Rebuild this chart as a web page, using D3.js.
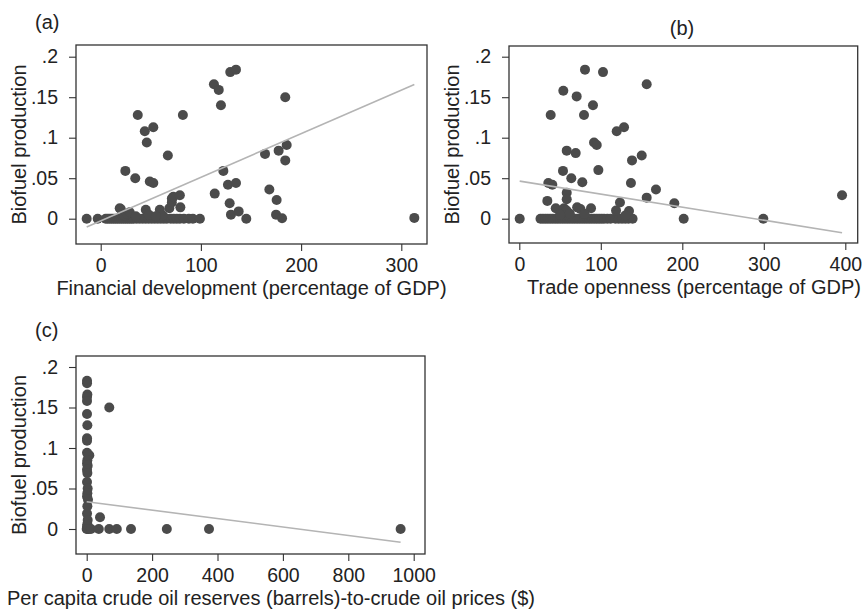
<!DOCTYPE html>
<html>
<head>
<meta charset="utf-8">
<script src="https://cdn.jsdelivr.net/npm/d3@7"></script>
<style>
  html, body { margin: 0; padding: 0; background: #fff; }
  svg text { font-family: "Liberation Sans", Arial, Helvetica, sans-serif; fill: #222; }
</style>
</head>
<body>
<svg id="chart" width="865" height="610"></svg>
<script>
// Biofuel production against three country-level determinants.

// (a) Financial development (percentage of GDP)
const finDevX = [
  -14, -3, 5, 7, 9, 11, 13, 15, 17, 19, 21, 23, 25, 27, 29, 31, 33, 36, 39, 42, 45, 48,
  51, 54, 57, 60, 63, 66, 70, 73, 76, 79, 83, 88, 92, 99,
  19, 20, 24, 26, 29, 45, 48, 59, 62, 68.5, 71, 71, 72.5, 79, 79.5, 35, 55,
  24.6, 34.5, 37, 44, 52.5, 46, 49, 52.5, 67, 82, 113, 117.8, 120, 129.3, 135, 122.4,
  113.8, 127, 135, 128.7, 130, 137.7, 145.3, 184.2, 164, 177.6, 185.6, 184.2, 168.3,
  175.6, 175, 181, 313
];
const finDevBio = [
  0, 0, 0, 0, 0, 0, 0, 0, 0, 0, 0, 0, 0, 0, 0, 0, 0, 0, 0, 0, 0, 0,
  0, 0, 0, 0, 0, 0, 0, 0, 0, 0, 0, 0, 0, 0,
  0.013, 0.012, 0.004, 0.006, 0.008, 0.011, 0.005, 0.011, 0.004, 0.013, 0.020, 0.025, 0.027, 0.029, 0.014, 0.003, 0.003,
  0.059, 0.050, 0.128, 0.108, 0.113, 0.094, 0.046, 0.044, 0.078, 0.128, 0.166, 0.159, 0.140, 0.181, 0.184, 0.059,
  0.031, 0.042, 0.044, 0.019, 0.005, 0.009, 0, 0.150, 0.080, 0.084, 0.091, 0.072, 0.036,
  0.023, 0.005, 0.0005, 0.001
];
// fitted line: intercept, slope
const finDevFit = [-0.0027, 0.000538];

// (b) Trade openness (percentage of GDP)
const tradeX = [
  0.5, 26, 29, 32, 35, 38, 41, 44, 47, 50, 53, 56, 59, 62, 65, 68, 71, 74, 77, 80, 83, 86,
  89, 92, 95, 98, 101, 104, 108, 112, 118, 122, 126, 130, 134, 139, 201.7, 299.4,
  44.7, 54.8, 58, 71, 75, 88, 118.7, 134.6, 62, 50, 80, 130,
  80.6, 102.7, 156.3, 54, 70.4, 90.4, 38.5, 79.4, 119.5, 128.5, 91.7, 95, 58.2, 69.2,
  150.2, 138.3, 53.6, 97, 63.8, 77.3, 35.6, 40.5, 137, 58.2, 58.2, 167.7, 34.4, 156.3,
  123.5, 190.2, 396
];
const tradeBio = [
  0, 0, 0, 0, 0, 0, 0, 0, 0, 0, 0, 0, 0, 0, 0, 0, 0, 0, 0, 0, 0, 0,
  0, 0, 0, 0, 0, 0, 0, 0, 0, 0, 0, 0, 0, 0, 0, 0,
  0.013, 0.013, 0.010, 0.014, 0.012, 0.013, 0.010, 0.0095, 0.006, 0.005, 0.006, 0.004,
  0.184, 0.181, 0.166, 0.158, 0.151, 0.140, 0.128, 0.128, 0.108, 0.113, 0.094, 0.091, 0.084, 0.081,
  0.078, 0.072, 0.059, 0.060, 0.050, 0.045, 0.044, 0.042, 0.044, 0.032, 0.024, 0.036, 0.022, 0.026,
  0.020, 0.019, 0.029
];
const tradeFit = [0.0465, -0.000161];

// (c) Per capita crude oil reserves (barrels)-to-crude oil prices ($)
const oilX = [
  1, 1, 2, 1, 1, 1, 2, 1, 1, 1, 8, 2, 1, 3, 1, 2, 1, 3, 2, 1, 4, 2, 1, 3, 2, 1,
  69, 40.7,
  0, 3, 6, 13, 37, 69, 92, 135.5, 245, 374, 960
];
const oilBio = [
  0.183, 0.180, 0.166, 0.163, 0.158, 0.142, 0.128, 0.112, 0.109, 0.094, 0.091, 0.085, 0.081,
  0.078, 0.073, 0.069, 0.058, 0.050, 0.044, 0.040, 0.036, 0.028, 0.019, 0.011, 0.006, 0.003,
  0.150, 0.0144,
  0, 0, 0, 0, 0, 0, 0, 0, 0, 0, 0
];
const oilFit = [0.0337, -0.0000521];

// shared y ticks and per-panel x ticks
const yTicks = [0, 0.05, 0.1, 0.15, 0.2];
const yTickLabels = ["0", ".05", ".1", ".15", ".2"];
const finDevTicks = [0, 100, 200, 300];
const tradeTicks = [0, 100, 200, 300, 400];
const oilTicks = [0, 200, 400, 600, 800, 1000];

const svg = d3.select("#chart");
const dotColor = "#4b4b4b";
const fitColor = "#b4b4b4";
const frameColor = "#333";
const tickFont = "19.5px";
const titleFont = "20px";

function drawPanel(p) {
  const g = svg.append("g");
  const x = d3.scaleLinear().domain(p.xDomain).range(p.xRange);
  const y = d3.scaleLinear().domain([0, 0.2]).range(p.yRange);

  // plot frame
  g.append("rect")
    .attr("x", p.frame[0]).attr("y", p.frame[1])
    .attr("width", p.frame[2] - p.frame[0]).attr("height", p.frame[3] - p.frame[1])
    .attr("fill", "none").attr("stroke", frameColor).attr("stroke-width", 1.3);

  // y axis
  const yAxis = d3.axisLeft(y).tickValues(yTicks)
    .tickFormat((d, i) => yTickLabels[i]).tickSize(7).tickPadding(11);
  const ya = g.append("g").attr("transform", `translate(${p.frame[0]},0)`).call(yAxis);
  ya.select(".domain").remove();
  ya.selectAll("line").attr("stroke", frameColor).attr("stroke-width", 1.1);
  ya.selectAll("text").style("font-size", tickFont).attr("fill", "#222");

  // x axis
  const xAxis = d3.axisBottom(x).tickValues(p.xTicks).tickFormat(d3.format("d"))
    .tickSize(7).tickPadding(7);
  const xa = g.append("g").attr("transform", `translate(0,${p.frame[3]})`).call(xAxis);
  xa.select(".domain").remove();
  xa.selectAll("line").attr("stroke", frameColor).attr("stroke-width", 1.1);
  xa.selectAll("text").style("font-size", tickFont).attr("fill", "#222");

  // points
  g.append("g").selectAll("circle")
    .data(p.xs.map((v, i) => [v, p.ys[i]]))
    .join("circle")
    .attr("cx", d => x(d[0])).attr("cy", d => y(d[1]))
    .attr("r", 5).attr("fill", dotColor);

  // fitted line over the range of the data
  const [x0, x1] = d3.extent(p.xs);
  const fy = v => p.fit[0] + p.fit[1] * v;
  g.append("line")
    .attr("x1", x(x0)).attr("y1", y(fy(x0)))
    .attr("x2", x(x1)).attr("y2", y(fy(x1)))
    .attr("stroke", fitColor).attr("stroke-width", 1.6);

  // axis titles
  g.append("text")
    .attr("transform", `translate(${p.frame[0] - 50.3},${(p.frame[1] + p.frame[3]) / 2}) rotate(-90)`)
    .attr("text-anchor", "middle")
    .style("font-size", titleFont).text("Biofuel production");
  g.append("text")
    .attr("x", p.xTitle[0]).attr("y", p.frame[3] + 51)
    .attr("text-anchor", p.xTitleAnchor)
    .style("font-size", titleFont).text(p.xLabel);

  // panel tag
  g.append("text")
    .attr("x", p.tag[0]).attr("y", p.tag[1])
    .attr("text-anchor", p.tagAnchor)
    .style("font-size", titleFont).text(p.tagText);
}

drawPanel({
  xs: finDevX, ys: finDevBio, fit: finDevFit, xTicks: finDevTicks,
  xDomain: [0, 300], xRange: [100.7, 401.3], yRange: [218.7, 56.7],
  frame: [76, 45, 427, 244], xTitle: [251.5], xTitleAnchor: "middle",
  xLabel: "Financial development (percentage of GDP)",
  tag: [35, 29], tagAnchor: "start", tagText: "(a)"
});

drawPanel({
  xs: tradeX, ys: tradeBio, fit: tradeFit, xTicks: tradeTicks,
  xDomain: [0, 400], xRange: [519.3, 845.3], yRange: [218.7, 56.7],
  frame: [509, 46, 857.7, 243], xTitle: [694], xTitleAnchor: "middle",
  xLabel: "Trade openness (percentage of GDP)",
  tag: [682, 35], tagAnchor: "middle", tagText: "(b)"
});

drawPanel({
  xs: oilX, ys: oilBio, fit: oilFit, xTicks: oilTicks,
  xDomain: [0, 1000], xRange: [86.7, 413.7], yRange: [529, 367],
  frame: [76, 356, 425, 554], xTitle: [7], xTitleAnchor: "start",
  xLabel: "Per capita crude oil reserves (barrels)-to-crude oil prices ($)",
  tag: [35, 337], tagAnchor: "start", tagText: "(c)"
});
</script>
</body>
</html>
